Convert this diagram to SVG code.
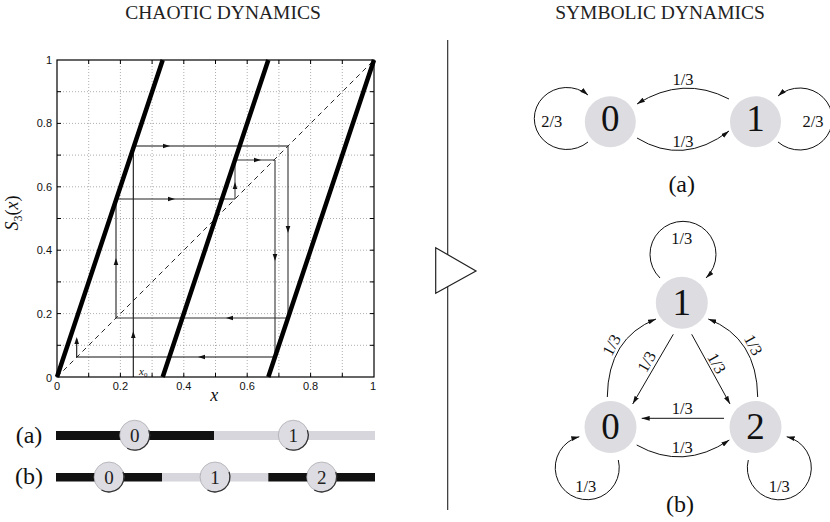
<svg xmlns="http://www.w3.org/2000/svg" xmlns:xlink="http://www.w3.org/1999/xlink" width="830" height="522" viewBox="0 0 830 522">
<style>
.hdr{font-family:"Liberation Serif",serif;font-size:19.5px;fill:#222;text-anchor:middle}
.tick{font-family:"Liberation Sans",sans-serif;font-size:11px;fill:#111}
.grid{stroke:#999;stroke-width:0.8;stroke-dasharray:1 2;fill:none}
.map{stroke:#000;stroke-width:4.5;fill:none;stroke-linecap:butt}
.cw{fill:none;stroke-width:1.1}
.ax{font-family:"Liberation Serif",serif;font-style:italic;fill:#111}
.node{fill:#dcdce1}
.nlab{font-family:"Liberation Serif",serif;font-size:37px;fill:#111;text-anchor:middle}
.blab{font-family:"Liberation Serif",serif;font-size:19px;fill:#222;text-anchor:middle}
.elab{font-family:"Liberation Serif",serif;font-size:16.5px;fill:#111;text-anchor:middle}
.cap{font-family:"Liberation Serif",serif;font-size:24px;fill:#111;text-anchor:middle}
.edge{fill:none;stroke:#111;stroke-width:1}
</style>
<defs>
<marker id="ah" viewBox="0 0 10 6" refX="10" refY="3" markerWidth="8" markerHeight="5" markerUnits="userSpaceOnUse" orient="auto">
<path d="M0,0 L10,3 L0,6 Z" fill="#111"/>
</marker>
<path id="ar" d="M0,0 L-7,-2.3 L-7,2.3 Z"/>
<g id="bc"><circle r="15" fill="#dcdce2" stroke="#9a9aa0" stroke-width="0.6"/><path d="M14.1,-5.1 A15,15 0 0 1 -7.5,13" fill="none" stroke="#333" stroke-width="1.3"/></g>
</defs>
<rect width="830" height="522" fill="#fff"/>

<text class="hdr" x="223" y="19.3">CHAOTIC DYNAMICS</text>
<text class="hdr" x="660" y="19.3">SYMBOLIC DYNAMICS</text>

<g id="plot">
<g class="grid">
<path d="M88.7,60V377M120.4,60V377M152.1,60V377M183.8,60V377M215.5,60V377M247.2,60V377M278.9,60V377M310.6,60V377M342.3,60V377"/>
<path d="M57,345.3H374M57,313.6H374M57,281.9H374M57,250.2H374M57,218.5H374M57,186.8H374M57,155.1H374M57,123.4H374M57,91.7H374"/>
</g>
<g stroke="#000" stroke-width="1">
<path d="M88.7,377v-4M120.4,377v-4M152.1,377v-4M183.8,377v-4M215.5,377v-4M247.2,377v-4M278.9,377v-4M310.6,377v-4M342.3,377v-4"/>
<path d="M88.7,60v4M120.4,60v4M152.1,60v4M183.8,60v4M215.5,60v4M247.2,60v4M278.9,60v4M310.6,60v4M342.3,60v4"/>
<path d="M57,345.3h4M57,313.6h4M57,281.9h4M57,250.2h4M57,218.5h4M57,186.8h4M57,155.1h4M57,123.4h4M57,91.7h4"/>
<path d="M374,345.3h-4M374,313.6h-4M374,281.9h-4M374,250.2h-4M374,218.5h-4M374,186.8h-4M374,155.1h-4M374,123.4h-4M374,91.7h-4"/>
</g>
<path d="M57,377L374,60" stroke="#111" stroke-width="0.9" stroke-dasharray="5 4" fill="none"/>
<g class="cw">
<path d="M133.3,377V146" stroke="#111"/>
<path d="M133.3,146H288" stroke="#111"/>
<path d="M288,146V318" stroke="#333"/>
<path d="M288,318H116" stroke="#333"/>
<path d="M116,318V199" stroke="#222"/>
<path d="M116,199H235" stroke="#222"/>
<path d="M235,199V160" stroke="#444"/>
<path d="M235,160H275" stroke="#333"/>
<path d="M275,160V357" stroke="#333"/>
<path d="M275,357H76.7" stroke="#111"/>
<path d="M76.7,357V339" stroke="#111"/>
</g>
<g fill="#111">
<use xlink:href="#ar" transform="translate(170,146)"/>
<use xlink:href="#ar" transform="translate(288,233) rotate(90)"/>
<use xlink:href="#ar" transform="translate(226,318) rotate(180)"/>
<use xlink:href="#ar" transform="translate(116,258) rotate(-90)"/>
<use xlink:href="#ar" transform="translate(175,199)"/>
<use xlink:href="#ar" transform="translate(235,182) rotate(-90)"/>
<use xlink:href="#ar" transform="translate(261,160)"/>
<use xlink:href="#ar" transform="translate(275,261) rotate(90)"/>
<use xlink:href="#ar" transform="translate(198,357) rotate(180)"/>
<use xlink:href="#ar" transform="translate(76.7,337) rotate(-90)"/>
<use xlink:href="#ar" transform="translate(133.3,331) rotate(-90)"/>
</g>
<path class="map" d="M57,377L162.7,60M162.7,377L268.3,60M268.3,377L374,60"/>
<rect x="57" y="60" width="317" height="317" fill="none" stroke="#000" stroke-width="1.2"/>
<g class="tick" text-anchor="end">
<text x="52" y="64">1</text>
<text x="52" y="127.4">0.8</text>
<text x="52" y="190.8">0.6</text>
<text x="52" y="254.2">0.4</text>
<text x="52" y="317.6">0.2</text>
<text x="52" y="381.5">0</text>
</g>
<g class="tick" text-anchor="middle">
<text x="57" y="390">0</text>
<text x="120.4" y="390">0.2</text>
<text x="183.8" y="390">0.4</text>
<text x="247.2" y="390">0.6</text>
<text x="310.6" y="390">0.8</text>
<text x="373" y="390">1</text>
</g>
<text class="ax" x="214.3" y="400.7" font-size="18" text-anchor="middle">x</text>
<text class="ax" x="139" y="375" font-size="11" fill="#555">x<tspan font-size="7" font-style="normal" dy="1.5">0</tspan></text>
<text class="ax" transform="translate(18.3,213) rotate(-90)" font-size="18" text-anchor="middle">S<tspan font-size="12" font-style="normal" dy="4">3</tspan><tspan dy="-4" font-style="normal">(</tspan>x<tspan font-style="normal">)</tspan></text>
</g>

<g id="bars">
<rect x="56" y="431" width="158" height="9" fill="#111"/>
<rect x="214" y="431" width="161" height="9" fill="#d6d6dc"/>
<rect x="56" y="473" width="106" height="8.5" fill="#111"/>
<rect x="162" y="473" width="106.3" height="8.5" fill="#d6d6dc"/>
<rect x="268.3" y="473" width="106.7" height="8.5" fill="#111"/>
<text class="cap" x="29" y="442.7" font-size="25">(a)</text>
<text class="cap" x="29" y="483.5" font-size="25">(b)</text>
</g>
<g id="bar-a0"><use xlink:href="#bc" transform="translate(134.7,435.2)"/><text class="blab" x="134.7" y="441.8">0</text></g>
<g id="bar-a1"><use xlink:href="#bc" transform="translate(293.3,435.2)"/><text class="blab" x="293.3" y="441.8">1</text></g>
<g id="bar-b0"><use xlink:href="#bc" transform="translate(109,477)"/><text class="blab" x="109" y="483.6">0</text></g>
<g id="bar-b1"><use xlink:href="#bc" transform="translate(215,477)"/><text class="blab" x="215" y="483.6">1</text></g>
<g id="bar-b2"><use xlink:href="#bc" transform="translate(321.7,477)"/><text class="blab" x="321.7" y="483.6">2</text></g>

<g id="divider">
<path d="M447.7,40V510" stroke="#222" stroke-width="1.1"/>
<polygon points="435.7,247.7 476,271 435.7,293.3" fill="#fff" stroke="#222" stroke-width="1.2"/>
</g>

<g id="connectors" class="edge" marker-end="url(#ah)">
<path d="M729,99 Q683,75 637,104"/>
<path d="M637,138 Q683,166 729,131"/>
<path d="M588,142 A32.5,31 0 1 1 588,95"/>
<path d="M778,142 A32.5,31 0 1 0 778,96"/>
<path d="M660,278 A33,33 0 1 1 706,278"/>
<path d="M607.3,397 Q608,338 656,319"/>
<path d="M757.7,397 Q757,338 708.3,319"/>
<path d="M673.3,334.3 L632.7,404"/>
<path d="M691.7,334.3 L730,404"/>
<path d="M724,418.3 L641.7,418.3"/>
<path d="M636.7,445 Q683,471 729.3,440"/>
<path d="M618.3,460 A32,32 0 1 1 579.3,436.7"/>
<path d="M748.3,460 A32,32 0 1 0 786.7,436.7"/>
</g>

<g id="edge-labels">
<text class="elab" x="683" y="85">1/3</text>
<text class="elab" x="683" y="146.5">1/3</text>
<text class="elab" x="551.7" y="126.5">2/3</text>
<text class="elab" x="813" y="126.5">2/3</text>
<text class="elab" x="681.7" y="244">1/3</text>
<text class="elab" transform="translate(611.5,345) rotate(-62)" y="5.5">1/3</text>
<text class="elab" transform="translate(646.7,361.7) rotate(-60)" y="5.5">1/3</text>
<text class="elab" transform="translate(716.7,363.3) rotate(60)" y="5.5">1/3</text>
<text class="elab" transform="translate(753.3,345) rotate(62)" y="5.5">1/3</text>
<text class="elab" x="682.3" y="414">1/3</text>
<text class="elab" x="682.3" y="453">1/3</text>
<text class="elab" x="585.7" y="492">1/3</text>
<text class="elab" x="779.3" y="492">1/3</text>
</g>

<g id="node-a0"><circle class="node" cx="610.3" cy="121.7" r="25.5"/><text class="nlab" x="610.3" y="130.7">0</text></g>
<g id="node-a1"><circle class="node" cx="755.5" cy="121.7" r="25.5"/><text class="nlab" x="755.5" y="130.7">1</text></g>
<g id="node-b1"><circle class="node" cx="681.8" cy="302.7" r="26"/><text class="nlab" x="681.8" y="315">1</text></g>
<g id="node-b0"><circle class="node" cx="610.5" cy="427" r="26"/><text class="nlab" x="610.5" y="439.3">0</text></g>
<g id="node-b2"><circle class="node" cx="755.5" cy="427" r="26"/><text class="nlab" x="755.5" y="439.3">2</text></g>

<text class="cap" x="681.7" y="191.7">(a)</text>
<text class="cap" x="680" y="511.7">(b)</text>
</svg>
